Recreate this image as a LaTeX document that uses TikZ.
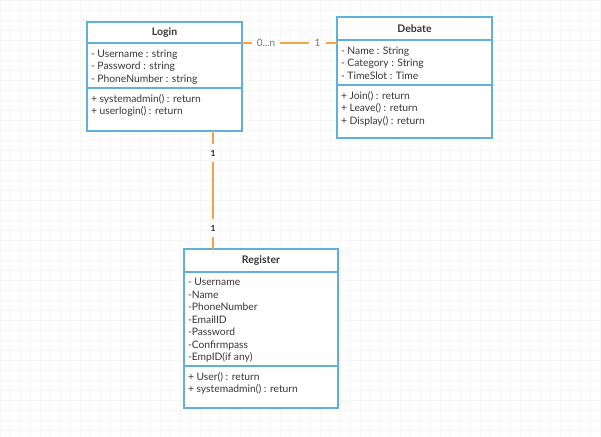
\documentclass[tikz,border=0pt]{standalone}
\usepackage{fontspec}
\setmainfont{Lato}
\usetikzlibrary{positioning}

\definecolor{boxblue}{RGB}{96,176,218}
\definecolor{linkorange}{RGB}{240,166,72}
\definecolor{inkgray}{RGB}{55,55,55}
\definecolor{gridgray}{RGB}{246,246,246}

\newcommand{\compart}[3]{\parbox[c][#2][t]{#1}{\vspace*{6.5pt}\raggedright #3}}

\tikzset{
  classhead/.style={draw=boxblue, line width=1.2pt, fill=white, anchor=north west,
    inner sep=0pt, outer sep=0pt, text=inkgray, font=\fontsize{10.5}{12}\selectfont\bfseries},
  classpart/.style={draw=boxblue, line width=1.2pt, fill=white, below=0pt of #1,
    inner xsep=4pt, inner ysep=0pt, outer sep=0pt, text=inkgray, font=\fontsize{10.3}{12.5}\selectfont},
  assoc/.style={draw=linkorange, line width=1.6pt},
  multlabel/.style={inner xsep=5pt, text=black!55, font=\fontsize{10}{12}\selectfont},
  multsmall/.style={inner ysep=6pt, text=black!85, font=\fontsize{8.5}{10}\selectfont\bfseries}
}

\begin{document}
\begin{tikzpicture}[x=1pt,y=-1pt]

\useasboundingbox (0,0) rectangle (601,436);
\draw[gridgray, line width=0.4pt, step=10pt] (0,0) grid (601,436);

\draw (87,22) node(LOGIN)[classhead, minimum width=155pt, minimum height=21pt]{Login};
\node(LOGINATT)[classpart=LOGIN]{\compart{147pt}{45pt}{- Username : string\\- Password : string\\- PhoneNumber : string}};
\node(LOGINOPS)[classpart=LOGINATT]{\compart{147pt}{43pt}{+ systemadmin() : return\\+ userlogin() : return}};

\draw (337,17) node(DEBATE)[classhead, minimum width=155pt, minimum height=23pt]{Debate};
\node(DEBATEATT)[classpart=DEBATE]{\compart{147pt}{45pt}{- Name : String\\- Category : String\\- TimeSlot : Time}};
\node(DEBATEOPS)[classpart=DEBATEATT]{\compart{147pt}{53pt}{+ Join() : return\\+ Leave() : return\\+ Display() : return}};

\draw (184,249) node(REGISTER)[classhead, minimum width=154pt, minimum height=23pt]{Register};
\node(REGISTERATT)[classpart=REGISTER]{\compart{146pt}{94pt}{- Username\\-Name\\-PhoneNumber\\-EmailID\\-Password\\-Confirmpass\\-EmpID(if any)}};
\node(REGISTEROPS)[classpart=REGISTERATT]{\compart{146pt}{42pt}{+ User() : return\\+ systemadmin() : return}};

\draw (266,43) node(ZERON)[multlabel]{0...n};
\draw (317.5,43) node(ONEDEB)[multlabel]{1};
\draw (213,153) node(ONELOG)[multsmall]{1};
\draw (213,228) node(ONEREG)[multsmall]{1};

\draw[assoc] (LOGINATT.north east) -- (ZERON);
\draw[assoc] (ZERON) -- (ONEDEB);
\draw[assoc] (ONEDEB) -- (ONEDEB -| DEBATEATT.west);

\draw[assoc] (LOGINOPS.south -| ONELOG) -- (ONELOG);
\draw[assoc] (ONELOG) -- (ONEREG);
\draw[assoc] (ONEREG) -- (ONEREG |- REGISTER.north);

\end{tikzpicture}
\end{document}
